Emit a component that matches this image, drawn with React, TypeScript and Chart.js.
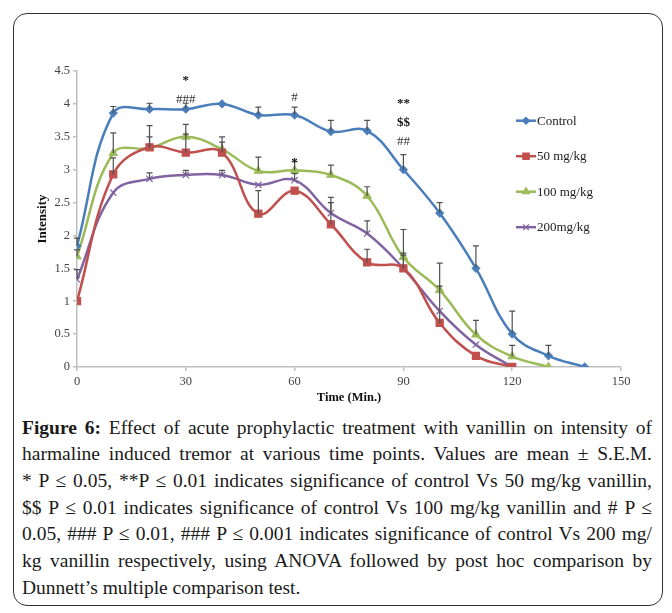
import React, { useEffect, useRef } from "react";
import { Chart, registerables } from "chart.js";
import { drawPoint } from "chart.js/helpers";

Chart.register(...registerables);

const times = [0, 10, 20, 30, 40, 50, 60, 70, 80, 90, 100, 110, 120, 130, 140];
const seriesLabels = ["Control", "50 mg/kg", "100 mg/kg", "200mg/kg"];
const control = [1.84, 3.86, 3.92, 3.92, 4.0, 3.83, 3.83, 3.58, 3.59, 3.0, 2.34, 1.5, 0.5, 0.17, 0];
const controlErr = [0.12, 0.1, 0.09, 0.09, 0, 0.12, 0.12, 0.17, 0.16, 0.23, 0.16, 0.34, 0.35, 0.16, 0];
const mg50 = [1.0, 2.93, 3.34, 3.26, 3.26, 2.33, 2.68, 2.17, 1.59, 1.5, 0.67, 0.17, 0];
const mg50Err = [0, 0.25, 0.16, 0.28, 0.16, 0.35, 0, 0.33, 0.2, 0.23, 0.56, 0, 0];
const mg100 = [1.68, 3.25, 3.33, 3.5, 3.31, 2.98, 2.99, 2.92, 2.6, 1.67, 1.17, 0.49, 0.16, 0];
const mg100Err = [0.1, 0.31, 0.34, 0.19, 0.19, 0.21, 0.13, 0.15, 0.14, 0.42, 0.41, 0.22, 0.17, 0];
const mg200 = [1.33, 2.65, 2.86, 2.92, 2.92, 2.77, 2.84, 2.34, 2.03, 1.5, 0.85, 0.34, 0];
const mg200Err = [0.15, 0, 0.09, 0.07, 0.07, 0, 0.1, 0.24, 0.19, 0.2, 0, 0, 0];

const xTicks = [0, 30, 60, 90, 120, 150];

const annoTexts = ["*", "###", "#", "*", "**", "$$", "##"];
const annoX = [30, 30, 60, 60, 90, 90, 90];
const annoY = [4.36, 4.07, 4.1, 3.1, 4.0, 3.72, 3.43];
const annoBold = [true, false, false, true, true, true, false];

const captionLines = [
  "Effect of acute prophylactic treatment with vanillin on intensity of",
  "harmaline induced tremor at various time points. Values are mean ± S.E.M.",
  "* P ≤ 0.05, **P ≤ 0.01 indicates significance of control Vs 50 mg/kg vanillin,",
  "$$ P ≤ 0.01 indicates significance of control Vs 100 mg/kg vanillin and # P ≤",
  "0.05, ### P ≤ 0.01, ### P ≤ 0.001 indicates significance of control Vs 200 mg/",
  "kg vanillin respectively, using ANOVA followed by post hoc comparison by",
  "Dunnett’s multiple comparison test.",
];

const colors = ["#4A7EBB", "#C0504D", "#9BBB59", "#8064A2"];
const styles = ["rectRot", "rect", "triangle", "crossRot"];
const radii = [3.8, 5, 4.5, 4.5];

const SERIF = "'Liberation Serif', 'DejaVu Serif', serif";

function toPts(vals: number[]) {
  return vals.map((v, i) => ({ x: times[i], y: v }));
}

const errors = [controlErr, mg50Err, mg100Err, mg200Err];

const errorBarPlugin = {
  id: "errorBars",
  afterDatasetsDraw(chart: any) {
    const ctx = chart.ctx;
    const xs = chart.scales.x;
    const ys = chart.scales.y;
    ctx.save();
    ctx.strokeStyle = "#505050";
    ctx.lineWidth = 1.2;
    chart.data.datasets.forEach((ds: any, di: number) => {
      const errs = errors[di];
      ds.data.forEach((p: any, i: number) => {
        const e = errs[i];
        if (!e) return;
        const x = xs.getPixelForValue(p.x);
        const y0 = ys.getPixelForValue(p.y);
        const y1 = ys.getPixelForValue(p.y + e);
        ctx.beginPath();
        ctx.moveTo(x, y0);
        ctx.lineTo(x, y1);
        ctx.moveTo(x - 3, y1);
        ctx.lineTo(x + 3, y1);
        ctx.stroke();
      });
    });
    ctx.restore();
  },
};

const annoPlugin = {
  id: "annos",
  afterDraw(chart: any) {
    const ctx = chart.ctx;
    const xs = chart.scales.x;
    const ys = chart.scales.y;
    ctx.save();
    ctx.textAlign = "center";
    ctx.textBaseline = "middle";
    annoTexts.forEach((t, i) => {
      ctx.font = (annoBold[i] ? "bold " : "") + "13px " + SERIF;
      ctx.fillStyle = annoBold[i] ? "#111" : "#333";
      ctx.fillText(t, xs.getPixelForValue(annoX[i]), ys.getPixelForValue(annoY[i]));
    });
    ctx.restore();
  },
};

const legendPlugin = {
  id: "customLegend",
  afterDraw(chart: any) {
    const ctx = chart.ctx;
    const area = chart.chartArea;
    const lx = area.left + 439;
    const ly = area.top + 49.7;
    ctx.save();
    chart.data.datasets.forEach((ds: any, i: number) => {
      const y = ly + i * 35.5;
      ctx.strokeStyle = colors[i];
      ctx.lineWidth = 2.5;
      ctx.beginPath();
      ctx.moveTo(lx, y);
      ctx.lineTo(lx + 20, y);
      ctx.stroke();
      ctx.fillStyle = colors[i];
      ctx.lineWidth = 1.2;
      drawPoint(ctx, { pointStyle: styles[i], radius: radii[i] * 0.9, rotation: 0, borderWidth: 1.2 } as any, lx + 10, y);
      ctx.fillStyle = "#222";
      ctx.font = "13px " + SERIF;
      ctx.textAlign = "left";
      ctx.textBaseline = "middle";
      ctx.fillText(ds.label, lx + 21, y + 0.5);
    });
    ctx.restore();
  },
};

function ChartView() {
  const ref = useRef<HTMLCanvasElement | null>(null);
  useEffect(() => {
    if (!ref.current) return;
    const seriesVals = [control, mg50, mg100, mg200];
    const chart = new Chart(ref.current, {
      type: "line",
      data: {
        datasets: seriesVals.map((vals, i) => ({
          label: seriesLabels[i],
          data: toPts(vals),
          borderColor: colors[i],
          backgroundColor: colors[i],
          borderWidth: 2.5,
          tension: 0.4,
          pointStyle: styles[i] as any,
          pointRadius: radii[i],
          pointBorderWidth: 1.2,
          pointBackgroundColor: colors[i],
          pointBorderColor: colors[i],
          fill: false,
        })),
      },
      options: {
        animation: false,
        responsive: false,
        devicePixelRatio: 1,
        layout: { padding: { left: 0, right: 51, top: 71, bottom: 0 } },
        plugins: { legend: { display: false }, tooltip: { enabled: false } },
        scales: {
          x: {
            type: "linear",
            min: 0,
            max: 150,
            afterFit: (s: any) => {
              s.height = 48;
            },
            afterBuildTicks: (s: any) => {
              s.ticks = xTicks.map((v) => ({ value: v }));
            },
            ticks: { font: { family: SERIF, size: 12.5 }, color: "#444", padding: 3, callback: (v: any) => String(v) },
            grid: { display: true, drawOnChartArea: false, drawTicks: true, tickLength: 4, color: "#bfbfbf", lineWidth: 1.5 },
            border: { display: true, color: "#bfbfbf", width: 1.5 },
            title: {
              display: true,
              text: "Time (Min.)",
              font: { family: SERIF, size: 12.5, weight: "bold" },
              color: "#111",
              padding: { top: 0, bottom: 10 },
            },
          },
          y: {
            min: 0,
            max: 4.5,
            afterFit: (s: any) => {
              s.width = 77;
            },
            ticks: { stepSize: 0.5, font: { family: SERIF, size: 12.5 }, color: "#444", padding: 3, callback: (v: any) => String(v) },
            grid: { display: true, drawOnChartArea: false, drawTicks: true, tickLength: 4, color: "#bfbfbf", lineWidth: 1.5 },
            border: { display: true, color: "#bfbfbf", width: 1.5 },
            title: {
              display: true,
              text: "Intensity",
              font: { family: SERIF, size: 13, weight: "bold" },
              color: "#111",
              padding: { top: 35, bottom: 0 },
            },
          },
        },
      },
      plugins: [errorBarPlugin, annoPlugin, legendPlugin],
    });
    return () => chart.destroy();
  }, []);
  return (
    <canvas
      ref={ref}
      width={672}
      height={415}
      style={{ position: "absolute", left: 0, top: 0, width: 672, height: 415 }}
    />
  );
}

export default function App() {
  return (
    <div style={{ position: "absolute", left: 0, top: 0, width: 672, height: 613, background: "#fff", overflow: "hidden" }}>
      <div
        style={{
          position: "absolute",
          left: 13,
          top: 13,
          width: 650,
          height: 593,
          border: "1.5px solid #333",
          borderRadius: 14,
          boxSizing: "border-box",
        }}
      />
      <ChartView />
      <div
        style={{
          position: "absolute",
          left: 22,
          top: 414.5,
          width: 630,
          fontFamily: SERIF,
          fontSize: 19.5,
          lineHeight: "26.7px",
          color: "#1a1a1a",
        }}
      >
        {captionLines.map((line, i) => (
          <div
            key={i}
            style={{
              textAlign: "justify",
              textAlignLast: i < captionLines.length - 1 ? "justify" : "left",
              whiteSpace: "normal",
            }}
          >
            {i === 0 ? <b>Figure 6: </b> : null}
            {line}
          </div>
        ))}
      </div>
    </div>
  );
}
